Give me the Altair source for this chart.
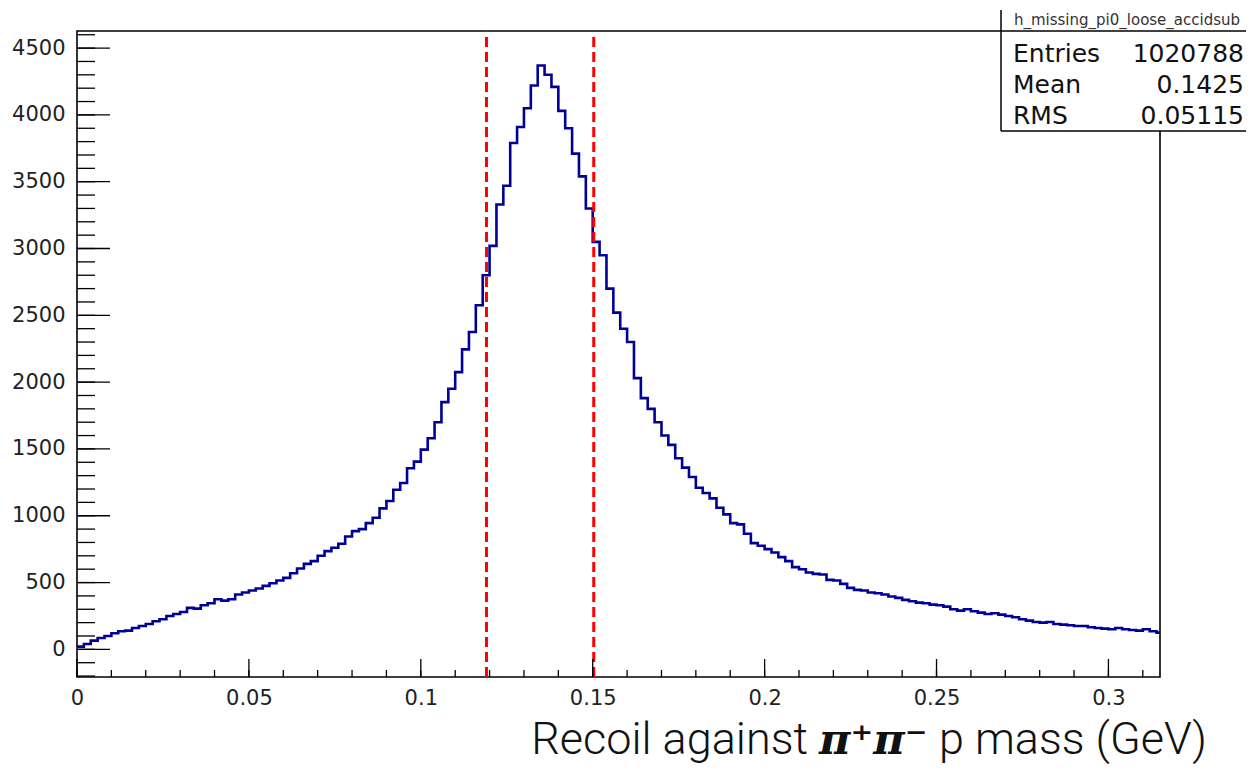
import altair as alt
import pandas as pd

# ---------------- data ----------------
BIN_WIDTH = 0.002
counts = [
    20, 40, 65, 85, 100, 120, 135, 140, 160, 175,
    190, 210, 225, 250, 265, 280, 310, 305, 330, 345,
    375, 365, 375, 410, 425, 440, 455, 475, 495, 515,
    535, 570, 605, 640, 660, 700, 735, 760, 790, 845,
    885, 900, 945, 985, 1055, 1110, 1195, 1245, 1355, 1405,
    1495, 1580, 1700, 1850, 1950, 2075, 2245, 2375, 2575, 2800,
    3020, 3330, 3470, 3790, 3910, 4050, 4220, 4370, 4300, 4210,
    4030, 3900, 3710, 3540, 3300, 3050, 2950, 2700, 2520, 2400,
    2300, 2030, 1880, 1800, 1700, 1600, 1530, 1430, 1360, 1290,
    1210, 1170, 1130, 1060, 1010, 945, 935, 865, 795, 775,
    750, 725, 690, 660, 615, 600, 575, 565, 560, 520,
    515, 490, 460, 445, 440, 425, 420, 410, 395, 385,
    370, 360, 350, 345, 335, 330, 320, 300, 290, 300,
    285, 275, 265, 270, 260, 250, 240, 225, 215, 205,
    200, 205, 190, 185, 180, 175, 175, 165, 160, 155,
    150, 160, 150, 145, 140, 150, 135, 125,
]
cut_x = [0.1191, 0.1503]
cut_top = [4628, 4585]
x_domain = [0, 0.315]
y_domain = [-207, 4628]
x_major = [0, 0.05, 0.1, 0.15, 0.2, 0.25, 0.3]
x_minor = [round(i * 0.01, 2) for i in range(32)]
y_major = list(range(0, 5000, 500))
y_minor = list(range(-200, 4700, 100))
hist_name = "h_missing_pi0_loose_accidsub"
stats_names = ["Entries", "Mean", "RMS"]
stats_values = ["1020788", "0.1425", "0.05115"]
title_parts = ["Recoil against", "\u03c0\u207a\u03c0\u207b", "p mass (GeV)"]

# ---------------- build ----------------
edges = [round(i * BIN_WIDTH, 4) for i in range(len(counts) + 1)]
hist = pd.DataFrame({"x": edges, "y": counts + [counts[-1]]})

W, H = 1083, 646
xs = alt.Scale(domain=x_domain, nice=False, zero=False)
ys = alt.Scale(domain=y_domain, nice=False, zero=False)
LABEL = dict(labelFont="DejaVu Sans", labelFontSize=21, labelColor="#222",
             ticks=False, domain=False, grid=False, title=None)
x_axis = alt.Axis(values=x_major, format="~g", labelPadding=10, labelFlush=False, **LABEL)
y_axis = alt.Axis(values=y_major, format="d", labelPadding=12, **LABEL)

line = alt.Chart(hist).mark_line(
    interpolate="step-after", color="#000099", strokeWidth=2.6, clip=True
).encode(
    x=alt.X("x:Q", scale=xs, axis=x_axis),
    y=alt.Y("y:Q", scale=ys, axis=y_axis),
)

cuts = alt.Chart(pd.DataFrame({"x": cut_x, "y": cut_top,
                               "bot": [y_domain[0]] * len(cut_x)})).mark_rule(
    color="#ff0000", strokeWidth=3, strokeDash=[10, 5]
).encode(
    x=alt.X("x:Q", scale=xs, axis=x_axis),
    y=alt.Y("bot:Q", scale=ys, axis=y_axis),
    y2="y:Q",
)

def yticks(vals, length):
    return alt.Chart(pd.DataFrame({"y": vals})).mark_rule(color="black", strokeWidth=1.3).encode(
        y=alt.Y("y:Q", scale=ys, axis=y_axis), x=alt.value(0), x2=alt.value(length))

def xticks(vals, length):
    return alt.Chart(pd.DataFrame({"x": vals})).mark_rule(color="black", strokeWidth=1.3).encode(
        x=alt.X("x:Q", scale=xs, axis=x_axis), y=alt.value(H), y2=alt.value(H - length))

one = pd.DataFrame({"a": [0]})
box_l, box_r, box_t, box_b = 924, 1190, -21, 100
box = alt.Chart(one).mark_rect(fill="white").encode(
    x=alt.value(box_l), x2=alt.value(box_r), y=alt.value(box_t), y2=alt.value(box_b))
box_lines = [
    alt.Chart(one).mark_rule(color="black", strokeWidth=1.5).encode(
        x=alt.value(box_l), y=alt.value(box_t), y2=alt.value(box_b)),
    alt.Chart(one).mark_rule(color="black", strokeWidth=1.5).encode(
        x=alt.value(box_l), x2=alt.value(box_r), y=alt.value(box_b)),
    alt.Chart(one).mark_rule(color="black", strokeWidth=1.5).encode(
        x=alt.value(box_l), x2=alt.value(box_r), y=alt.value(0)),
]
texts = [alt.Chart(one).mark_text(font="DejaVu Sans", fontSize=15, color="#333",
                                  align="center", baseline="alphabetic").encode(
    text=alt.value(hist_name), x=alt.value(1050), y=alt.value(-6))]
for i, (n, v) in enumerate(zip(stats_names, stats_values)):
    yy = 31 + 31 * i
    texts.append(alt.Chart(one).mark_text(font="DejaVu Sans", fontSize=25, color="#111",
                                          align="left", baseline="alphabetic").encode(
        text=alt.value(n), x=alt.value(936), y=alt.value(yy)))
    texts.append(alt.Chart(one).mark_text(font="DejaVu Sans", fontSize=25, color="#111",
                                          align="right", baseline="alphabetic").encode(
        text=alt.value(v), x=alt.value(1167), y=alt.value(yy)))

TY = 723
xtitle = [
    alt.Chart(one).mark_text(font="Roboto", fontWeight=300, fontSize=45, color="#111",
                             align="right", baseline="alphabetic").encode(
        text=alt.value(title_parts[0]), x=alt.value(731), y=alt.value(TY)),
    alt.Chart(one).mark_text(font="DejaVu Serif", fontWeight="bold", fontStyle="italic",
                             fontSize=43, color="#111", align="left", baseline="alphabetic").encode(
        text=alt.value(title_parts[1]), x=alt.value(742), y=alt.value(TY)),
    alt.Chart(one).mark_text(font="Roboto", fontWeight=300, fontSize=45, color="#111",
                             align="left", baseline="alphabetic").encode(
        text=alt.value(title_parts[2]), x=alt.value(862), y=alt.value(TY)),
]

chart = alt.layer(
    line, cuts,
    yticks(y_minor, 18), yticks(y_major, 33),
    xticks(x_minor, 7), xticks(x_major, 18),
    box, *box_lines, *texts, *xtitle,
).properties(
    width=W, height=H,
    autosize=alt.AutoSizeParams(type="none"),
    padding={"left": 69, "top": 23, "right": 86, "bottom": 89},
    background="white",
).configure_view(stroke="black", strokeWidth=1.6)

chart.save("out.html", embed_options={"renderer": "svg", "actions": False})
